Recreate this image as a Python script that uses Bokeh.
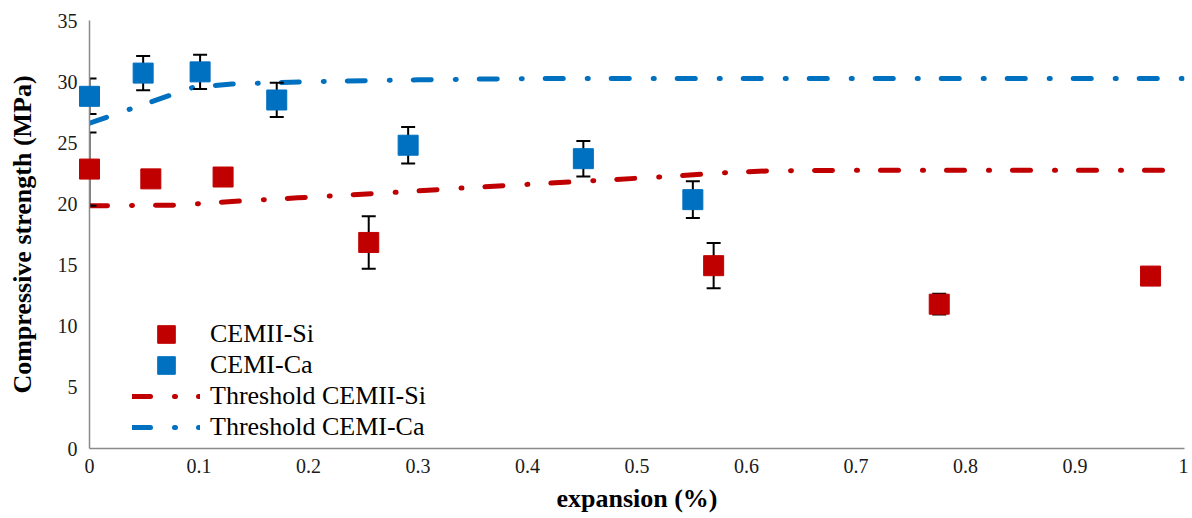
from bokeh.plotting import figure
from bokeh.models import Range1d, FixedTicker, Legend, LegendItem, ColumnDataSource
from bokeh.embed import file_html
from bokeh.resources import INLINE

# ---- data ----
si_x = [0.0, 0.056, 0.122, 0.255, 0.570, 0.776, 0.969]
si_y = [22.85, 22.05, 22.2, 16.85, 14.95, 11.8, 14.1]
si_err = [3.0, 0.5, 0.5, 2.15, 1.85, 0.85, 0.5]

ca_x = [0.0, 0.049, 0.101, 0.171, 0.291, 0.451, 0.551]
ca_y = [28.8, 30.7, 30.8, 28.5, 24.8, 23.7, 20.35]
ca_err = [1.45, 1.4, 1.4, 1.4, 1.5, 1.45, 1.5]

thr_si_x = [0.0, 0.08, 0.13, 0.19, 0.28, 0.34, 0.40, 0.46, 0.52, 0.58, 0.62, 0.70, 1.0]
thr_si_y = [19.85, 19.9, 20.2, 20.5, 20.95, 21.3, 21.6, 21.9, 22.2, 22.55, 22.7, 22.75, 22.75]

thr_ca_x = [0.0, 0.095, 0.13, 0.2, 0.3, 0.4, 1.0]
thr_ca_y = [26.6, 29.55, 29.8, 30.0, 30.15, 30.25, 30.25]

x_ticks = [0, 0.1, 0.2, 0.3, 0.4, 0.5, 0.6, 0.7, 0.8, 0.9, 1]
x_tick_labels = ["0", "0.1", "0.2", "0.3", "0.4", "0.5", "0.6", "0.7", "0.8", "0.9", "1"]
y_ticks = [0, 5, 10, 15, 20, 25, 30, 35]

legend_labels = ["CEMII-Si", "CEMI-Ca", "Threshold CEMII-Si", "Threshold CEMI-Ca"]
x_title = "expansion (%)"
y_title = "Compressive strength (MPa)"

RED = "#C00000"
BLUE = "#0070C0"
AXIS_GRAY = "#8a8a8a"
FONT = "Liberation Serif"

p = figure(width=1188, height=516, output_backend="svg", toolbar_location=None,
           x_range=Range1d(0, 1), y_range=Range1d(0, 35),
           min_border_left=89, min_border_right=4, min_border_top=20, min_border_bottom=68)
p.outline_line_color = None
p.xgrid.grid_line_color = None
p.ygrid.grid_line_color = None
p.background_fill_color = "white"
p.border_fill_color = "white"

# axes
p.xaxis.ticker = FixedTicker(ticks=x_ticks)
p.xaxis.major_label_overrides = {t: s for t, s in zip(x_ticks, x_tick_labels)}
p.yaxis.ticker = FixedTicker(ticks=y_ticks)
for ax in (p.xaxis, p.yaxis):
    ax.axis_line_color = AXIS_GRAY
    ax.axis_line_width = 1.5
    ax.major_tick_line_color = None
    ax.minor_tick_line_color = None
    ax.major_tick_out = 0
    ax.major_tick_in = 0
    ax.major_label_text_font = FONT
    ax.major_label_text_font_size = "20px"
    ax.major_label_text_color = "#1a1a1a"
    ax.axis_label_text_font = FONT
    ax.axis_label_text_font_size = "26px"
    ax.axis_label_text_font_style = "bold"
    ax.axis_label_text_color = "black"
p.xaxis.axis_label = x_title
p.yaxis.axis_label = y_title
p.xaxis.major_label_standoff = 10
p.xaxis.axis_label_standoff = 8
p.yaxis.major_label_standoff = 12
p.yaxis.axis_label_standoff = 18

# threshold lines
DASH = "18 24 1 23"
l_si = p.line(thr_si_x, thr_si_y, line_color=RED, line_width=5, line_dash=DASH, line_cap="round")
l_ca = p.line(thr_ca_x, thr_ca_y, line_color=BLUE, line_width=5, line_dash=DASH, line_cap="round")

# error bars
def add_errors(xs, ys, es):
    src = ColumnDataSource(dict(x=xs,
                                lo=[y - e for y, e in zip(ys, es)],
                                hi=[y + e for y, e in zip(ys, es)]))
    p.segment(x0="x", y0="lo", x1="x", y1="hi", source=src, line_color="black", line_width=2)
    p.scatter(x="x", y="lo", source=src, marker="dash", size=14, line_color="black", line_width=2)
    p.scatter(x="x", y="hi", source=src, marker="dash", size=14, line_color="black", line_width=2)

add_errors(si_x, si_y, si_err)
add_errors(ca_x, ca_y, ca_err)

# markers
r_si = p.scatter(si_x, si_y, marker="square", size=20, fill_color=RED, line_color=RED, level="overlay")
r_ca = p.scatter(ca_x, ca_y, marker="square", size=20, fill_color=BLUE, line_color=BLUE, level="overlay")

# legend: one single-entry legend per row so rows can be tighter than the glyph box
renderers = [r_si, r_ca, l_si, l_ca]
row_bottoms = [92, 61, 30, -1]
for lab, rend, yb in zip(legend_labels, renderers, row_bottoms):
    lg = Legend(items=[LegendItem(label=lab, renderers=[rend])],
                location=(43, yb), glyph_width=68, glyph_height=44,
                padding=0, margin=0, label_standoff=10, spacing=0,
                label_text_font=FONT, label_text_font_size="26px", label_text_color="black",
                background_fill_alpha=0, border_line_color=None)
    p.add_layout(lg)

open("out.html", "w").write(file_html(p, INLINE))
